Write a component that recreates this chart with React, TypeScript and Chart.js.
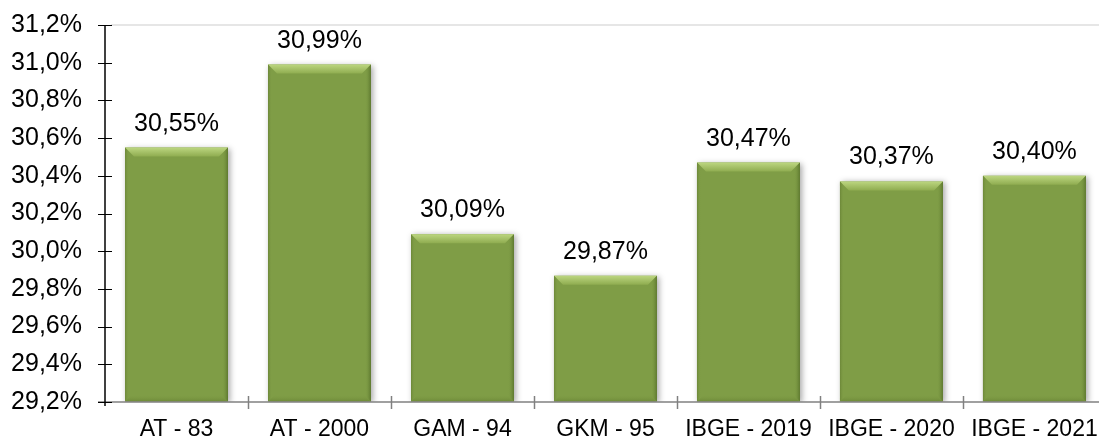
import React, { useEffect, useRef } from "react";
import { Chart, registerables } from "chart.js";

Chart.register(...registerables);

const categories = ["AT - 83", "AT - 2000", "GAM - 94", "GKM - 95", "IBGE - 2019", "IBGE - 2020", "IBGE - 2021"];
const values = [30.55, 30.99, 30.09, 29.87, 30.47, 30.37, 30.40];
const yMin = 29.2;
const yMax = 31.2;
const yStep = 0.2;

const FONT = "'Liberation Sans', Arial, sans-serif";

const fmt = (v: number, d: number) => v.toFixed(d).replace(".", ",") + "%";

const shadowPlugin = {
  id: "barShadow",
  beforeDatasetDraw(chart: any) {
    const ctx = chart.ctx;
    ctx.save();
    ctx.shadowColor = "rgba(0,0,0,0.35)";
    ctx.shadowBlur = 6;
    ctx.shadowOffsetX = 2;
    ctx.shadowOffsetY = 1;
  },
  afterDatasetDraw(chart: any) {
    chart.ctx.restore();
  },
};

const decoPlugin = {
  id: "deco",
  afterDatasetsDraw(chart: any) {
    const ctx = chart.ctx;
    const meta = chart.getDatasetMeta(0);
    const ds = chart.data.datasets[0];
    meta.data.forEach((bar: any, i: number) => {
      const { x, y, base, width } = bar.getProps(["x", "y", "base", "width"], true);
      const x0 = x - width / 2;
      const x1 = x + width / 2;
      const b = 9;
      ctx.save();
      // top bevel
      const g = ctx.createLinearGradient(0, y, 0, y + b);
      g.addColorStop(0, "#bcd680");
      g.addColorStop(1, "#8fac50");
      ctx.fillStyle = g;
      ctx.beginPath();
      ctx.moveTo(x0, y);
      ctx.lineTo(x1, y);
      ctx.lineTo(x1 - b, y + b);
      ctx.lineTo(x0 + b, y + b);
      ctx.closePath();
      ctx.fill();
      // left bevel
      const gl = ctx.createLinearGradient(x0, 0, x0 + 4, 0);
      gl.addColorStop(0, "#6c8738");
      gl.addColorStop(1, "rgba(127,157,70,0)");
      ctx.fillStyle = gl;
      ctx.beginPath();
      ctx.moveTo(x0, y);
      ctx.lineTo(x0 + 4, y + 4);
      ctx.lineTo(x0 + 4, base - 4);
      ctx.lineTo(x0, base);
      ctx.closePath();
      ctx.fill();
      // right bevel
      const gr = ctx.createLinearGradient(x1 - 6, 0, x1, 0);
      gr.addColorStop(0, "rgba(127,157,70,0)");
      gr.addColorStop(1, "#5c772e");
      ctx.fillStyle = gr;
      ctx.beginPath();
      ctx.moveTo(x1, y);
      ctx.lineTo(x1 - 6, y + 6);
      ctx.lineTo(x1 - 6, base - 6);
      ctx.lineTo(x1, base);
      ctx.closePath();
      ctx.fill();
      // bottom bevel
      const gb = ctx.createLinearGradient(0, base - 7, 0, base);
      gb.addColorStop(0, "rgba(127,157,70,0)");
      gb.addColorStop(1, "#6e8a38");
      ctx.fillStyle = gb;
      ctx.beginPath();
      ctx.moveTo(x0, base);
      ctx.lineTo(x0 + 7, base - 7);
      ctx.lineTo(x1 - 7, base - 7);
      ctx.lineTo(x1, base);
      ctx.closePath();
      ctx.fill();
      ctx.restore();

      // value label
      ctx.save();
      ctx.fillStyle = "#000";
      ctx.font = `25px ${FONT}`;
      ctx.textAlign = "center";
      ctx.textBaseline = "alphabetic";
      ctx.fillText(fmt(ds.data[i], 2), x, y - 17);
      ctx.restore();
    });
  },
  afterDraw(chart: any) {
    const ctx = chart.ctx;
    const { left, right, top, bottom } = chart.chartArea;
    const yScale = chart.scales.y;
    ctx.save();
    // top border line
    ctx.strokeStyle = "#e6e6e6";
    ctx.lineWidth = 2;
    ctx.beginPath();
    ctx.moveTo(left + 6, top);
    ctx.lineTo(right, top);
    ctx.stroke();
    // x axis line
    ctx.strokeStyle = "#808080";
    ctx.lineWidth = 1.5;
    ctx.beginPath();
    ctx.moveTo(left - 7, bottom);
    ctx.lineTo(right, bottom);
    ctx.stroke();
    // x tick marks at category boundaries
    const n = chart.data.labels.length;
    const w = (right - left) / n;
    for (let i = 1; i <= n; i++) {
      const xx = Math.round(left + i * w) + 0.5;
      ctx.beginPath();
      ctx.moveTo(xx, bottom - 6);
      ctx.lineTo(xx, bottom + 7);
      ctx.stroke();
    }
    // y axis line
    ctx.strokeStyle = "#000";
    ctx.lineWidth = 1.5;
    ctx.beginPath();
    ctx.moveTo(left, top);
    ctx.lineTo(left, bottom + 4);
    ctx.stroke();
    yScale.ticks.forEach((t: any) => {
      const yy = Math.round(yScale.getPixelForValue(t.value)) + 0.5;
      ctx.lineWidth = 1;
      ctx.beginPath();
      ctx.moveTo(left - 7, yy);
      ctx.lineTo(left + 7, yy);
      ctx.stroke();
    });
    ctx.restore();
  },
};

export default function App() {
  const ref = useRef<HTMLCanvasElement | null>(null);
  useEffect(() => {
    if (!ref.current) return;
    const chart = new Chart(ref.current, {
      type: "bar",
      data: {
        labels: categories,
        datasets: [
          {
            data: values,
            base: yMin,
            backgroundColor: "#7f9d46",
            borderWidth: 0,
            categoryPercentage: 1,
            barPercentage: 0.72,
          } as any,
        ],
      },
      options: {
        responsive: false,
        animation: false,
        devicePixelRatio: 1,
        layout: { padding: { top: 25, right: 4, left: 0, bottom: 0 } },
        plugins: { legend: { display: false }, tooltip: { enabled: false } },
        scales: {
          x: {
            grid: { display: false, drawTicks: false },
            border: { display: false },
            ticks: {
              color: "#000",
              font: { family: FONT, size: 23 },
              padding: 14,
              autoSkip: false,
              maxRotation: 0,
            },
            afterFit: (s: any) => {
              s.height = 37;
            },
          },
          y: {
            min: yMin,
            max: yMax,
            grid: {
              display: true,
              drawOnChartArea: false,
              drawTicks: true,
              tickLength: 23,
              color: "rgba(0,0,0,0)",
            },
            border: { display: false },
            ticks: {
              stepSize: yStep,
              color: "#000",
              font: { family: FONT, size: 25 },
              padding: 0,
              callback: (v: any) => fmt(Number(v), 1),
            },
            afterFit: (s: any) => {
              s.width = 105;
            },
          },
        },
      },
      plugins: [shadowPlugin, decoPlugin],
    });
    return () => chart.destroy();
  }, []);
  return (
    <div style={{ position: "fixed", left: 0, top: 0, width: 1099, height: 439, overflow: "hidden", background: "#fff" }}>
      <canvas ref={ref} width={1112} height={439} style={{ display: "block" }} />
    </div>
  );
}
